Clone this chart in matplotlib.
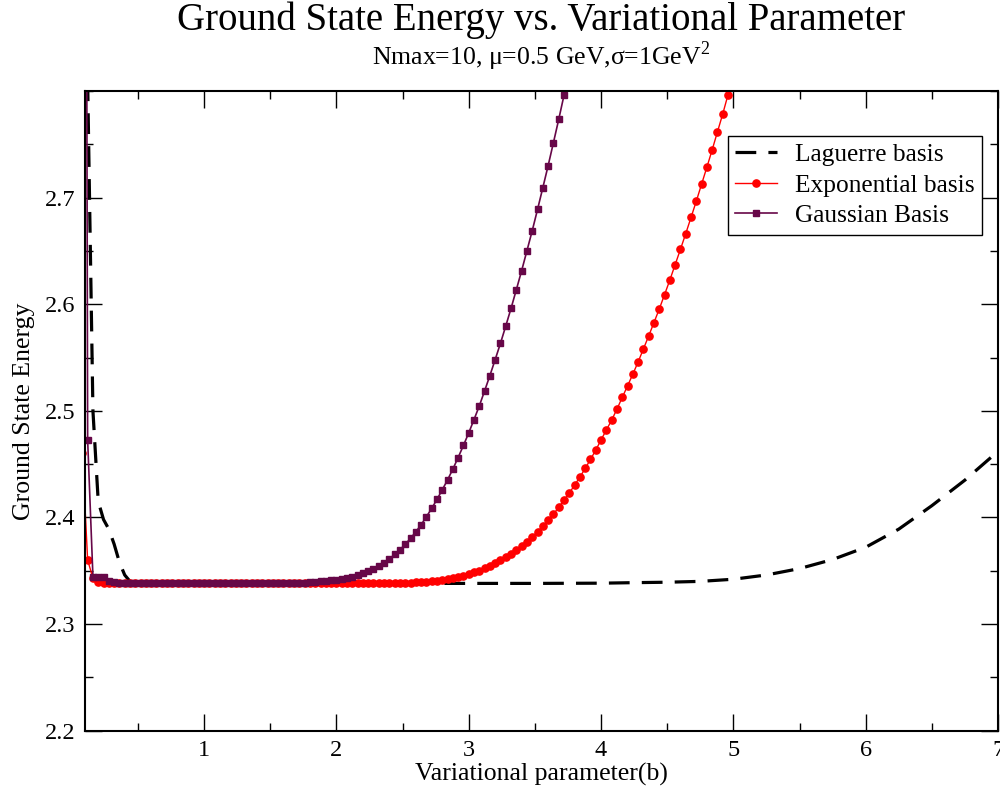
import numpy as np
import matplotlib
import matplotlib.pyplot as plt
from matplotlib.ticker import MultipleLocator, FixedLocator

matplotlib.rcParams['font.family'] = ['Liberation Serif', 'DejaVu Serif']
matplotlib.rcParams['mathtext.fontset'] = 'custom'
matplotlib.rcParams['mathtext.rm'] = 'Liberation Serif'

# sampled variational parameter b for the two marker series: 0.08, 0.12, ... (step 0.04)
b_step = 0.04
b_start = 0.08

exp_energy = [
    2.4600, 2.3600, 2.3430, 2.3395, 2.3386,
    2.3383, 2.3382, 2.3382, 2.3382, 2.3382, 2.3382, 2.3382, 2.3382, 2.3382, 2.3382,
    2.3382, 2.3382, 2.3382, 2.3382, 2.3382, 2.3382, 2.3382, 2.3382, 2.3382, 2.3382,
    2.3382, 2.3382, 2.3382, 2.3382, 2.3382, 2.3382, 2.3382, 2.3382, 2.3382, 2.3382,
    2.3382, 2.3382, 2.3382, 2.3382, 2.3382, 2.3382, 2.3382, 2.3382, 2.3382, 2.3382,
    2.3382, 2.3382, 2.3382, 2.3382, 2.3382, 2.3382, 2.3382, 2.3382, 2.3382, 2.3382,
    2.3382, 2.3382, 2.3383, 2.3383,
    2.3384, 2.3385, 2.3387, 2.3389, 2.3391, 2.3394, 2.3397, 2.3400, 2.3406, 2.3413,
    2.3422, 2.3431, 2.3441, 2.3453, 2.3469, 2.3484, 2.3499, 2.3522, 2.3544, 2.3569,
    2.3597, 2.3625, 2.3659, 2.3694, 2.3731, 2.3771, 2.3818, 2.3865, 2.3918, 2.3972,
    2.4031, 2.4094, 2.4162, 2.4228, 2.4303, 2.4378, 2.4459, 2.4544, 2.4631, 2.4727,
    2.4820, 2.4912, 2.5015, 2.5125, 2.5233, 2.5343, 2.5458, 2.5580, 2.5702, 2.5828,
    2.5955, 2.6090, 2.6227, 2.6371, 2.6515, 2.6662, 2.6814, 2.6967, 2.7127, 2.7286,
    2.7449, 2.7618, 2.7786, 2.7967, 2.8150,
]

gauss_energy = [
    4.6000, 2.4725, 2.3445, 2.3445, 2.3440, 2.3405, 2.3390, 2.3385,
    2.3382, 2.3382, 2.3382, 2.3382, 2.3382, 2.3382, 2.3382, 2.3382,
    2.3382, 2.3382, 2.3382, 2.3382, 2.3382, 2.3382, 2.3382, 2.3382,
    2.3382, 2.3382, 2.3382, 2.3382, 2.3382, 2.3382, 2.3382, 2.3382,
    2.3382, 2.3382, 2.3382, 2.3382, 2.3382, 2.3382, 2.3382, 2.3382,
    2.3384, 2.3386, 2.3388, 2.3391, 2.3394, 2.3399, 2.3404, 2.3410, 2.3415, 2.3423,
    2.3432, 2.3443, 2.3456, 2.3475, 2.3494, 2.3518, 2.3544, 2.3575, 2.3609, 2.3653,
    2.3696, 2.3747, 2.3803, 2.3865, 2.3931, 2.4006, 2.4084, 2.4169, 2.4259, 2.4352,
    2.4453, 2.4562, 2.4675, 2.4793, 2.4918, 2.5046, 2.5187, 2.5331, 2.5481, 2.5634,
    2.5796, 2.5962, 2.6137, 2.6315, 2.6502, 2.6690, 2.6889, 2.7093, 2.7299, 2.7515,
    2.7733, 2.7960, 2.8190,
]

lag_b = [0.12, 0.16, 0.20, 0.24, 0.28, 0.32, 0.36, 0.40, 0.44, 0.48, 0.6, 1.0, 1.5,
         2.0, 2.5, 3.0, 3.5, 4.0, 4.25, 4.5, 4.75, 5.0, 5.25, 5.5, 5.75, 6.0,
         6.25, 6.5, 6.75, 7.0]
lag_energy = [2.810, 2.500, 2.415, 2.398, 2.389, 2.375, 2.358, 2.346, 2.340, 2.3385,
              2.3381, 2.3381, 2.3381, 2.3381, 2.3381, 2.3381, 2.3381, 2.3383, 2.3388,
              2.3392, 2.3400, 2.3420, 2.3460, 2.3520, 2.3605, 2.3720, 2.3890, 2.4110,
              2.4350, 2.4620]

exp_b = b_start + b_step * np.arange(len(exp_energy))
gauss_b = b_start + b_step * np.arange(len(gauss_energy))

fig = plt.figure(figsize=(10, 7.95), dpi=100)
ax = fig.add_axes([0.085, 0.081, 0.913, 0.8045])

ax.plot(lag_b, lag_energy, color='black', lw=2.3, dashes=(6.5, 3.8),
        label='Laguerre basis')
ax.plot(exp_b, exp_energy, color='#ff0000', lw=1.0, marker='o', ms=5.2,
        label='Exponential basis')
ax.plot(gauss_b, gauss_energy, color='#670748', lw=1.2, marker='s', ms=4.3,
        label='Gaussian Basis')

ax.set_xlim(0.1, 7)
ax.set_ylim(2.2, 2.8)
ax.xaxis.set_major_locator(FixedLocator([1, 2, 3, 4, 5, 6, 7]))
ax.xaxis.set_minor_locator(MultipleLocator(0.5))
ax.yaxis.set_major_locator(FixedLocator([2.2, 2.3, 2.4, 2.5, 2.6, 2.7]))
ax.yaxis.set_minor_locator(MultipleLocator(0.05))
ax.tick_params(which='both', direction='in', top=True, right=True, width=1.0)
ax.tick_params(which='major', length=12.5, labelsize=17.5, pad=7)
ax.tick_params(which='minor', length=6)
for s in ax.spines.values():
    s.set_linewidth(1.5)

ax.set_xlabel('Variational parameter(b)', fontsize=18.5, labelpad=1)
ax.set_ylabel('Ground State Energy', fontsize=18.5, labelpad=7)

cx = 0.085 + 0.913 / 2
fig.text(cx, 0.962, 'Ground State Energy vs. Variational Parameter',
         ha='center', va='baseline', fontsize=28)
fig.text(cx, 0.918, r'Nmax=10, μ=0.5 GeV,σ=1GeV$^{2}$',
         ha='center', va='baseline', fontsize=18.5)

leg = ax.legend(loc='upper right', bbox_to_anchor=(0.983, 0.930), borderaxespad=0,
                fontsize=18.3, fancybox=False, edgecolor='black', framealpha=1,
                handlelength=1.65, handletextpad=0.7, labelspacing=0.3,
                borderpad=0.3)
leg.get_frame().set_linewidth(1.0)

fig.savefig('out.png', dpi=100)
